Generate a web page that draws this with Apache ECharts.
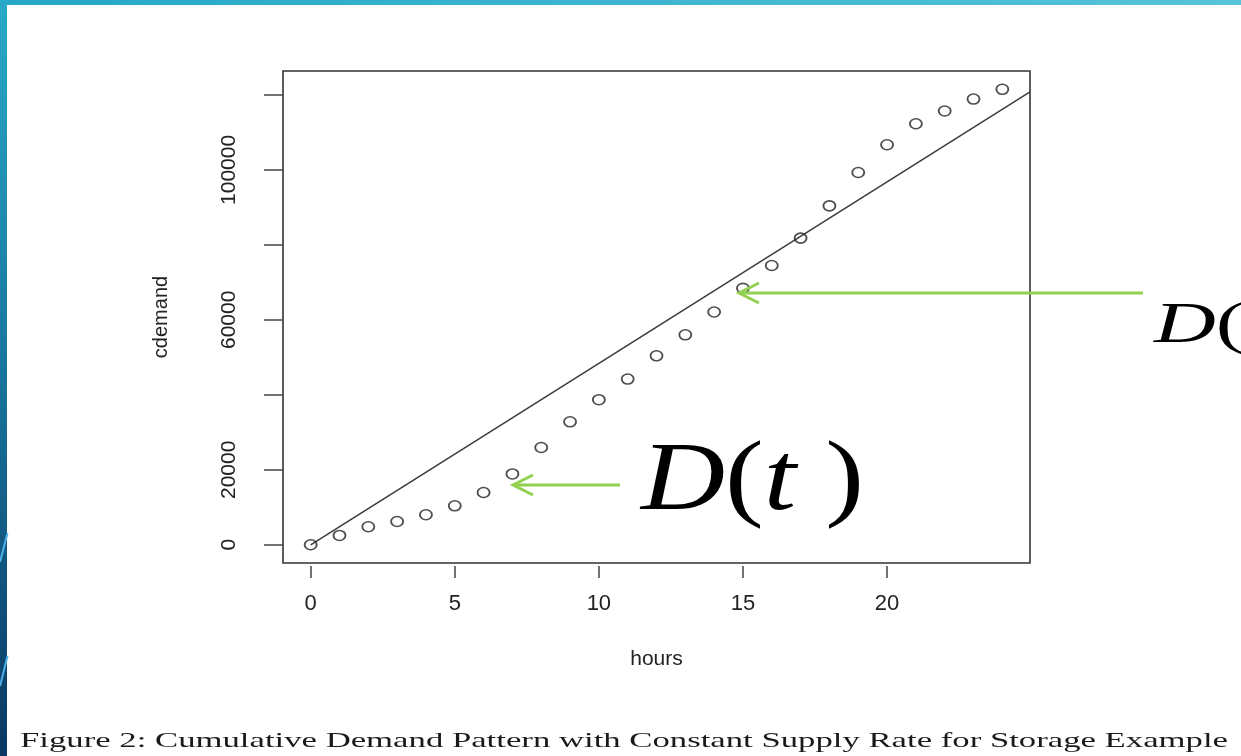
<!DOCTYPE html>
<html>
<head>
<meta charset="utf-8">
<title>Cumulative Demand Pattern</title>
<script src="https://cdn.jsdelivr.net/npm/echarts@6/dist/echarts.min.js"></script>
<style>
  html, body { margin: 0; padding: 0; background: #fff; }
  #chart { width: 1241px; height: 756px; }
</style>
</head>
<body>
<div id="chart"></div>
<script>
// Hourly cumulative demand (observed points)
const hours = [0, 1, 2, 3, 4, 5, 6, 7, 8, 9, 10, 11, 12, 13, 14, 15, 16, 17, 18, 19, 20, 21, 22, 23, 24];
const cdemand = [0, 2500, 4800, 6200, 8000, 10400, 13950, 18900, 25950, 32800, 38700, 44200,
                 50400, 56000, 62100, 68400, 74500, 81800, 90400, 99300, 106700, 112300, 115700, 118900, 121500];

// Constant supply rate line: start and end points
const supplyHours = [0, 24.96];
const supplyValues = [0, 120800];

// Axis ticks and labels
const xTicks = [0, 5, 10, 15, 20];
const yTicks = [0, 20000, 40000, 60000, 80000, 100000, 120000];
const yLabels = [0, 20000, 60000, 100000];

const caption = 'Figure 2: Cumulative Demand Pattern with Constant Supply Rate for Storage Example';

const points = hours.map((h, i) => [h, cdemand[i]]);
const supply = supplyHours.map((h, i) => [h, supplyValues[i]]);

const chart = echarts.init(document.getElementById('chart'), null, { renderer: 'canvas' });

const sansFont = '"Liberation Sans", Arial, Helvetica, sans-serif';
const serifFont = '"Liberation Serif", "Times New Roman", serif';
const green = '#92d050';

function arrow(x1, x2, y) {
  // horizontal arrow pointing left, tip at x2
  return [
    { type: 'line', shape: { x1: x1, y1: y, x2: x2 + 1, y2: y },
      style: { stroke: green, lineWidth: 3 }, z: 20 },
    { type: 'polyline', shape: { points: [[x2 + 20, y - 10], [x2, y], [x2 + 20, y + 10]] },
      style: { stroke: green, lineWidth: 3, fill: null, lineJoin: 'miter' }, z: 20 }
  ];
}

function dText(x, y, size, sx) {
  return {
    type: 'text', x: x, y: y, z: 20, scaleX: sx,
    style: {
      text: '{i|D}{n|(}{i|t}{s| }{n|)}',
      rich: {
        i: { fontFamily: serifFont, fontStyle: 'italic', fontSize: size, fill: '#000' },
        n: { fontFamily: serifFont, fontSize: size, fill: '#000' },
        s: { fontFamily: serifFont, fontSize: size, fill: '#000' }
      },
      verticalAlign: 'middle'
    }
  };
}

const plainNumber = v => String(v);

const option = {
  backgroundColor: '#fff',
  animation: false,
  grid: {
    left: 283, right: 211, top: 71, bottom: 193,
    show: true, borderColor: '#333', borderWidth: 1.6, backgroundColor: 'transparent'
  },
  xAxis: {
    type: 'value', min: -0.96, max: 24.96,
    position: 'bottom', offset: 3,
    name: 'hours', nameLocation: 'middle', nameGap: 83,
    nameTextStyle: { fontFamily: sansFont, fontSize: 21, color: '#222' },
    axisLine: { show: false, onZero: false },
    axisTick: { show: true, inside: false, length: 12, customValues: xTicks, lineStyle: { color: '#444', width: 1.5 } },
    axisLabel: { customValues: xTicks, margin: 27, formatter: plainNumber, fontFamily: sansFont, fontSize: 22, color: '#222' },
    splitLine: { show: false }
  },
  yAxis: {
    type: 'value', min: -4860, max: 126380,
    position: 'left',
    name: 'cdemand', nameLocation: 'middle', nameGap: 112, nameRotate: 90,
    nameTextStyle: { fontFamily: sansFont, fontSize: 20, color: '#222' },
    axisLine: { show: false, onZero: false },
    axisTick: { show: true, inside: false, length: 19, customValues: yTicks, lineStyle: { color: '#444', width: 1.5 } },
    axisLabel: { customValues: yLabels, rotate: 90, margin: 43, formatter: plainNumber, fontFamily: sansFont, fontSize: 21, color: '#222' },
    splitLine: { show: false }
  },
  series: [
    {
      type: 'line', data: supply, showSymbol: false, clip: true,
      lineStyle: { color: '#3a3a3a', width: 1.5 }, z: 3
    },
    {
      type: 'scatter', data: points, symbol: 'circle', symbolSize: [12, 10],
      itemStyle: { color: 'rgba(255,255,255,0)', borderColor: '#222', borderWidth: 1.7 }, z: 4
    }
  ],
  graphic: [
    // frame bars
    { type: 'rect', shape: { x: 0, y: 0, width: 1241, height: 5 }, z: 30,
      style: { fill: new echarts.graphic.LinearGradient(0, 0, 1, 0, [
        { offset: 0, color: '#25a6c7' }, { offset: 1, color: '#55c4d9' }]) } },
    { type: 'rect', shape: { x: 0, y: 0, width: 7, height: 756 }, z: 30,
      style: { fill: new echarts.graphic.LinearGradient(0, 0, 0, 1, [
        { offset: 0, color: '#29a9c9' }, { offset: 0.5, color: '#18749c' }, { offset: 1, color: '#0a3862' }]) } },
    { type: 'line', shape: { x1: 7.5, y1: 533, x2: 0, y2: 562 }, z: 31, style: { stroke: '#4fb0ea', lineWidth: 2 } },
    { type: 'line', shape: { x1: 7.5, y1: 656, x2: 0, y2: 686 }, z: 31, style: { stroke: '#4fb0ea', lineWidth: 2 } },
    // annotations
    ...arrow(1143, 739, 293),
    ...arrow(620, 513, 485),
    dText(641, 483, 97, 1.2),
    dText(1154, 327, 57, 1.5),
    // caption
    { type: 'text', x: 20, y: 741, z: 20, scaleX: 1, id: 'cap',
      style: { text: caption, fontFamily: serifFont, fontSize: 22, fill: '#1a1a1a', verticalAlign: 'middle' } }
  ]
};

chart.setOption(option);

// stretch caption to span the page width
const capEl = chart.getZr().storage.getDisplayList().find(el => el.style && el.style.text === caption);
if (capEl) {
  const w = capEl.getBoundingRect().width;
  if (w > 0) chart.setOption({ graphic: [{ id: 'cap', scaleX: 1208 / w }] });
}
</script>
</body>
</html>
